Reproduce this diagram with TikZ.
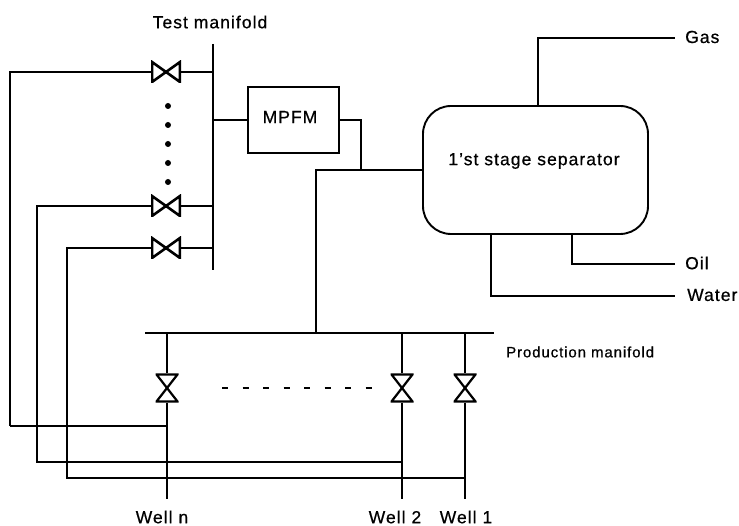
\documentclass[tikz,border=0pt]{standalone}
\usepackage{fontspec}
\setmainfont{Liberation Sans}[LetterSpace=6,FakeBold=0.6]
\usetikzlibrary{calc}
\tikzstyle{separator} = [rectangle, rounded corners=28pt, minimum width=225pt, minimum height=128pt, text centered, draw=black, line width=1.9pt]
\tikzstyle{meter} = [rectangle, minimum width=91pt, minimum height=66pt, text centered, draw=black, line width=1.9pt]
\tikzstyle{tag} = [font=\fontsize{17.5}{19}\selectfont, inner sep=0pt]
\tikzstyle{endtag} = [tag, anchor=west]
\tikzstyle{pipe} = [line width=1.9pt]
\tikzstyle{heavypipe} = [line width=2.8pt]
\tikzstyle{hvalve} = [minimum width=30pt, minimum height=22pt, inner sep=0pt, path picture={
  \draw [line width=2.6pt] ($(path picture bounding box.south west)+(1,1)$) -- ($(path picture bounding box.north east)+(-1,-1)$) -- ($(path picture bounding box.south east)+(-1,1)$) -- ($(path picture bounding box.north west)+(1,-1)$) -- cycle;}]
\tikzstyle{vvalve} = [minimum width=23pt, minimum height=29pt, inner sep=0pt, path picture={
  \draw [line width=2.2pt] ($(path picture bounding box.south west)+(1,1)$) -- ($(path picture bounding box.north east)+(-1,-1)$) -- ($(path picture bounding box.north west)+(1,-1)$) -- ($(path picture bounding box.south east)+(-1,1)$) -- cycle;}]
\tikzstyle{blob} = [circle, fill=black, inner sep=0pt, minimum size=6pt]
\begin{document}
\begin{tikzpicture}[x=1pt,y=1pt,node distance=19pt]
\useasboundingbox (0,0) rectangle (739,526);
% test manifold
\coordinate (tmtop) at (213,482);
\coordinate (tmbot) at (213,256);
\node (tmlabel) [tag] at (210,504) {Test manifold};
\node (tv1) [hvalve] at (166,454) {};
\node (tv2) [hvalve] at (166,320) {};
\node (tv3) [hvalve] at (166,278) {};
\node (dot1) [blob] at (168,420) {};
\node (dot2) [blob, below of=dot1] {};
\node (dot3) [blob, below of=dot2] {};
\node (dot4) [blob, below of=dot3] {};
\node (dot5) [blob, below of=dot4] {};
% meter and separator
\node (mpfm) [meter] at (293.5,406) {};
\node (mpfmlabel) [tag] at (290,409) {MPFM};
\node (sep) [separator] at (535.5,356) {};
\node (seplabel) [tag] at (534,365) {1'st stage separator};
\coordinate (mix) at (361,356);
\coordinate (gasout) at (675,488);
\coordinate (oilout) at (675,262);
\coordinate (waterout) at (675,230);
\coordinate (gasport) at (538,420);
\coordinate (oilport) at (572,292);
\coordinate (waterport) at (491,292);
\node (gas) [endtag] at (685,489) {Gas};
\node (oil) [endtag] at (685,263) {Oil};
\node (water) [endtag] at (687,231) {Water};
% production manifold
\coordinate (pmleft) at (145,193);
\coordinate (pmright) at (494,193);
\coordinate (pmjoin) at (316,193);
\node (pmlabel) [endtag, font=\fontsize{15}{17}\selectfont] at (506,174) {Production manifold};
\node (wvn) [vvalve] at (167,138) {};
\node (wv2) [vvalve] at (402,138) {};
\node (wv1) [vvalve] at (465,138) {};
\coordinate (wnend) at (167,27);
\coordinate (w2end) at (402,27);
\coordinate (w1end) at (465,27);
\node (wn) [tag] at (162,9) {Well n};
\node (w2) [tag] at (395,9) {Well 2};
\node (w1) [tag] at (466,9) {Well 1};
\coordinate (cn) at (10,100);
\coordinate (c2) at (37,64);
\coordinate (c3) at (67,48);
\coordinate (jn) at (167,100);
\coordinate (j2) at (402,64);
\coordinate (j1) at (465,48);
\coordinate (dashstart) at (222,138);
\coordinate (dashend) at (372,138);
% pipes
\draw [pipe] (tmtop) -- (tmbot);
\draw [pipe] (tv1.east) -- (tv1 -| tmtop);
\draw [pipe] (tv2.east) -- (tv2 -| tmtop);
\draw [pipe] (tv3.east) -- (tv3 -| tmtop);
\draw [heavypipe] (tv1.west) -| (cn);
\draw [pipe] (cn) -- (jn);
\draw [pipe] (tv2.west) -| (c2) -- (j2);
\draw [heavypipe] (tv3.west) -| (c3) -- (j1);
\draw [pipe] (mpfm.west) -- (mpfm.west -| tmtop);
\draw [pipe] (mpfm.east) -| (mix);
\draw [pipe] (pmjoin) |- (sep.west);
\draw [pipe] (gasport) |- (gasout);
\draw [pipe] (oilport) |- (oilout);
\draw [pipe] (waterport) |- (waterout);
\draw [heavypipe, line width=2.2pt] (pmleft) -- (pmright);
\draw [pipe] (wvn |- pmleft) -- (wvn.north);
\draw [pipe] (wv2 |- pmleft) -- (wv2.north);
\draw [pipe] (wv1 |- pmleft) -- (wv1.north);
\draw [pipe] (wvn.south) -- (wnend);
\draw [pipe] (wv2.south) -- (w2end);
\draw [pipe] (wv1.south) -- (w1end);
\draw [line width=2pt, dash pattern=on 6pt off 14.5pt] (dashstart) -- (dashend);
\end{tikzpicture}
\end{document}
